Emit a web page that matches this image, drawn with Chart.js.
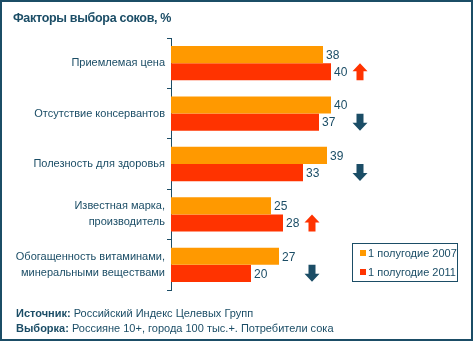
<!DOCTYPE html>
<html>
<head>
<meta charset="utf-8">
<script src="https://cdn.jsdelivr.net/npm/chart.js@4/dist/chart.umd.min.js"></script>
<style>
  body { margin: 0; background: #fff; }
  #wrap { position: relative; width: 475px; height: 341px; font-family: Arial, "Liberation Sans", sans-serif; color: #1b4d66; }
  #frame { position: absolute; left: 0; top: 0; width: 473px; height: 341px; border: 2px solid #1b4d66; box-sizing: border-box; }
  #title { position: absolute; left: 13px; top: 10px; font-size: 12.5px; line-height: 16px; font-weight: bold; letter-spacing: -0.3px; }
  #foot { position: absolute; left: 16px; top: 306px; font-size: 11px; line-height: 15px; }
  canvas { position: absolute; left: 0; top: 0; }
</style>
</head>
<body>
<div id="wrap">
  <canvas id="chart" width="475" height="341"></canvas>
  <div id="frame"></div>
  <div id="title">Факторы выбора соков, %</div>
  <div id="foot">
    <div><b>Источник:</b> Российский Индекс Целевых Групп</div>
    <div><b>Выборка:</b> Россияне 10+, города 100 тыс.+. Потребители сока</div>
  </div>
</div>
<script>
// Категорії та значення
const categories = [
    'Приемлемая цена',
    'Отсутствие консервантов',
    'Полезность для здоровья',
    ['Известная марка,', 'производитель'],
    ['Обогащенность витаминами,', 'минеральными веществами']
];
const seriesNames = ['1 полугодие 2007', '1 полугодие 2011'];
const values2007 = [38, 40, 39, 25, 27];
const values2011 = [40, 37, 33, 28, 20];

const DARK = '#1b4d66';
const ORANGE = '#ff9900';
const RED = '#ff3300';

// Підписи значень біля стовпчиків
const valueLabels = {
    id: 'valueLabels',
    afterDatasetsDraw(chart) {
        const ctx = chart.ctx;
        ctx.save();
        ctx.font = '12px Arial';
        ctx.fillStyle = DARK;
        ctx.textBaseline = 'middle';
        ctx.textAlign = 'left';
        chart.data.datasets.forEach((ds, i) => {
            chart.getDatasetMeta(i).data.forEach((bar, j) => {
                ctx.fillText(String(ds.data[j]), bar.x + 3, bar.y + 1);
            });
        });
        ctx.restore();
    }
};

// Стрілки зміни 2011 відносно 2007
const arrows = {
    id: 'arrows',
    afterDatasetsDraw(chart) {
        const ctx = chart.ctx;
        const xs = chart.scales.x;
        const meta = chart.getDatasetMeta(1);
        ctx.save();
        values2011.forEach((v, i) => {
            const up = v > values2007[i];
            // стрілки стоять у колонці правіше довшого стовпчика
            const cx = xs.getPixelForValue(Math.ceil(Math.max(v, values2007[i]) / 4) * 4) + 29;
            const cy = meta.data[i].y;
            const w = 15, h = 17, head = 8, shaft = 7;
            const top = cy - h / 2, bot = cy + h / 2;
            ctx.fillStyle = up ? RED : DARK;
            ctx.beginPath();
            if (up) {
                ctx.moveTo(cx, top);
                ctx.lineTo(cx + w / 2, top + head);
                ctx.lineTo(cx + shaft / 2, top + head);
                ctx.lineTo(cx + shaft / 2, bot);
                ctx.lineTo(cx - shaft / 2, bot);
                ctx.lineTo(cx - shaft / 2, top + head);
                ctx.lineTo(cx - w / 2, top + head);
            } else {
                ctx.moveTo(cx, bot);
                ctx.lineTo(cx + w / 2, bot - head);
                ctx.lineTo(cx + shaft / 2, bot - head);
                ctx.lineTo(cx + shaft / 2, top);
                ctx.lineTo(cx - shaft / 2, top);
                ctx.lineTo(cx - shaft / 2, bot - head);
                ctx.lineTo(cx - w / 2, bot - head);
            }
            ctx.closePath();
            ctx.fill();
        });
        ctx.restore();
    }
};

// Легенда в рамці справа внизу
const boxLegend = {
    id: 'boxLegend',
    afterDraw(chart) {
        const ctx = chart.ctx;
        ctx.save();
        ctx.strokeStyle = DARK;
        ctx.lineWidth = 1;
        ctx.strokeRect(352.5, 243.5, 105, 38);
        ctx.font = '11px Arial';
        ctx.textBaseline = 'middle';
        chart.data.datasets.forEach((ds, i) => {
            const y = 250 + i * 19;
            ctx.fillStyle = ds.backgroundColor;
            ctx.fillRect(360, y, 6, 6);
            ctx.fillStyle = DARK;
            ctx.fillText(ds.label, 368, y + 3.5);
        });
        ctx.restore();
    }
};

new Chart(document.getElementById('chart'), {
    type: 'bar',
    data: {
        labels: categories,
        datasets: [
            { label: seriesNames[0], data: values2007, backgroundColor: ORANGE },
            { label: seriesNames[1], data: values2011, backgroundColor: RED }
        ]
    },
    options: {
        indexAxis: 'y',
        responsive: false,
        animation: false,
        devicePixelRatio: 1,
        categoryPercentage: 0.68,
        barPercentage: 1.0,
        layout: { padding: { left: 0, top: 38, right: 64, bottom: 51 } },
        plugins: {
            legend: { display: false },
            tooltip: { enabled: false },
            title: { display: false }
        },
        scales: {
            x: { display: false, min: 0, max: 60 },
            y: {
                afterFit(scale) { scale.width = 171; },
                grid: {
                    offset: true,
                    drawOnChartArea: false,
                    drawTicks: true,
                    tickLength: 4,
                    color: DARK
                },
                border: { display: true, color: DARK, width: 1 },
                ticks: {
                    padding: 2,
                    color: DARK,
                    font: { family: 'Arial', size: 11, lineHeight: 1.45 }
                }
            }
        }
    },
    plugins: [valueLabels, arrows, boxLegend]
});
</script>
</body>
</html>
